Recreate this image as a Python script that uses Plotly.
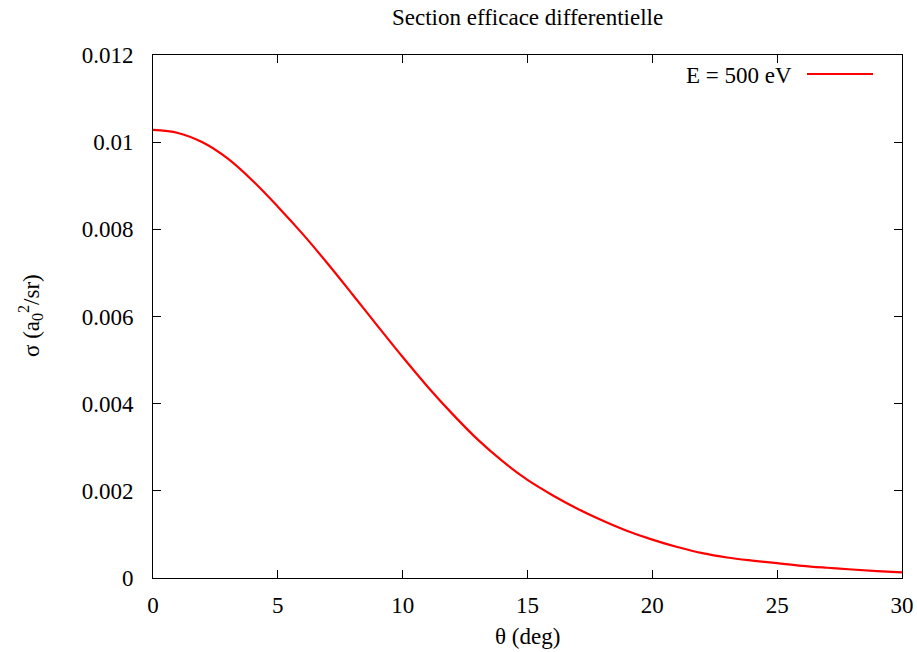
import plotly.graph_objects as go

theta_deg = list(range(0, 31))
sigma = [0.01028, 0.01021, 0.00999, 0.00962, 0.00911, 0.00852, 0.00789, 0.00721,
         0.00650, 0.00578, 0.00507, 0.00439, 0.00376, 0.00318, 0.00268, 0.00225,
         0.00190, 0.00159, 0.00132, 0.00108, 0.00088, 0.00071, 0.00057, 0.00047,
         0.00040, 0.00034, 0.00028, 0.000235, 0.000195, 0.00016, 0.00013]

x_ticks = [0, 5, 10, 15, 20, 25, 30]
x_tick_labels = ["0", "5", "10", "15", "20", "25", "30"]
y_ticks = [0, 0.002, 0.004, 0.006, 0.008, 0.01, 0.012]
y_tick_labels = ["0", "0.002", "0.004", "0.006", "0.008", "0.01", "0.012"]

legend_label = "E = 500 eV"
title_text = "Section efficace differentielle"
x_title = "θ (deg)"
y_title = "σ (a<sub>0</sub><sup>2</sup>/sr)"

FONT = "Liberation Serif, Times New Roman, serif"
FS = 23
W, H = 917, 652
L, R, T, B = 153, 15, 55, 74
pw, ph = W - L - R, H - T - B

def px(x):
    return (x - L) / pw

def py(y):
    return (H - B - y) / ph

fig = go.Figure()
fig.add_trace(go.Scatter(
    x=theta_deg, y=sigma, mode="lines", name=legend_label,
    line=dict(color="#ff0000", width=2.2, shape="spline", smoothing=1.0),
    showlegend=False,
))

axis_common = dict(
    showgrid=False, zeroline=False, showline=True, linecolor="black", linewidth=1,
    mirror="ticks", ticks="inside", ticklen=8, tickcolor="black", tickwidth=1,
    tickfont=dict(family=FONT, size=FS, color="black"), automargin=False,
)

fig.update_xaxes(range=[0, 30], tickvals=x_ticks, ticktext=x_tick_labels,
                 ticklabelstandoff=6, **axis_common)
fig.update_yaxes(range=[0, 0.012], tickvals=y_ticks, ticktext=y_tick_labels,
                 ticklabelstandoff=14, **axis_common)

txt_font = dict(family=FONT, size=FS, color="black")
# axis titles
fig.add_annotation(x=px(527), y=py(637), xref="paper", yref="paper", text=x_title,
                   showarrow=False, xanchor="center", yanchor="middle", font=txt_font)
fig.add_annotation(x=px(30), y=py(316), xref="paper", yref="paper", text=y_title,
                   showarrow=False, xanchor="center", yanchor="middle", textangle=-90,
                   font=txt_font)
# title
fig.add_annotation(x=px(527), y=py(18), xref="paper", yref="paper", text=title_text,
                   showarrow=False, xanchor="center", yanchor="middle", font=txt_font)

# legend drawn gnuplot-style: text then sample line
fig.add_annotation(x=px(794), y=py(75), xref="paper", yref="paper", text=legend_label,
                   showarrow=False, xanchor="right", yanchor="middle", font=txt_font)
fig.add_shape(type="line", xref="paper", yref="paper",
              x0=px(807), x1=px(873), y0=py(74), y1=py(74),
              line=dict(color="#ff0000", width=2.2))

fig.update_layout(
    width=W, height=H,
    margin=dict(l=L, r=R, t=T, b=B, autoexpand=False),
    paper_bgcolor="white", plot_bgcolor="white",
)

fig.write_html("out.html")
